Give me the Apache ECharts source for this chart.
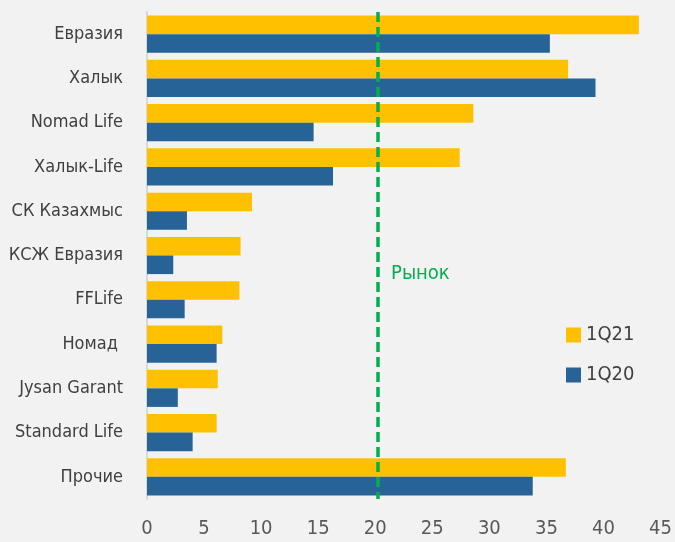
<!DOCTYPE html>
<html><head><meta charset="utf-8">
<script src="https://cdn.jsdelivr.net/npm/echarts@6/dist/echarts.min.js"></script>
<style>html,body{margin:0;padding:0;background:#f2f2f2}#c{width:675px;height:542px}</style>
</head><body><div id="c"></div>
<script>
const categories = ['Евразия','Халык','Nomad Life','Халык-Life','СК Казахмыс','КСЖ Евразия','FFLife','Номад ','Jysan Garant','Standard Life','Прочие'];
const q21 = [43.1, 36.9, 28.6, 27.4, 9.2, 8.2, 8.1, 6.6, 6.2, 6.1, 36.7];
const q20 = [35.3, 39.3, 14.6, 16.3, 3.5, 2.3, 3.3, 6.1, 2.7, 4.0, 33.8];
const market = 20.2;
const xTicks = [0, 45, 5];
const FONT = "'Liberation Sans Narrow','DejaVu Sans Condensed','Roboto Condensed',Roboto,sans-serif";
const chart = echarts.init(document.getElementById('c'));
chart.setOption({
  backgroundColor: '#f2f2f2',
  animation: false,
  textStyle: {fontFamily: FONT},
  grid: {left: 147, right: 13, top: 12, bottom: 43},
  legend: {
    orient: 'vertical', left: 561, top: 320, itemWidth: 15, itemHeight: 15, itemGap: 20,
    icon: 'rect',
    textStyle: {fontFamily: FONT, fontSize: 20, color: '#404040'},
    data: ['1Q21','1Q20']
  },
  xAxis: {
    type: 'value', min: xTicks[0], max: xTicks[1], interval: xTicks[2],
    axisLine: {show: false}, axisTick: {show: false}, splitLine: {show: false},
    axisLabel: {fontFamily: FONT, fontSize: 20, color: '#595959', margin: 20}
  },
  yAxis: {
    type: 'category', data: categories, inverse: true,
    axisLine: {lineStyle: {color: '#d9d9d9', width: 2}},
    axisTick: {length: 9, lineStyle: {color: '#d9d9d9', width: 2}},
    axisLabel: {fontFamily: FONT, fontSize: 18, color: '#404040', margin: 24}
  },
  series: [
    {name: '1Q21', type: 'bar', data: q21, barGap: '0%', barCategoryGap: '16%',
     itemStyle: {color: '#FFC000'},
     markLine: {symbol: 'none', silent: true,
       lineStyle: {color: '#00B050', type: [10, 5], width: 3.5},
       label: {show: false}, data: [{xAxis: market}]},
     markPoint: {symbol: 'rect', symbolSize: 1, itemStyle: {color: 'transparent'},
       label: {show: true, formatter: 'Рынок', position: 'right', offset: [8, 28],
         fontFamily: FONT, fontSize: 20, color: '#00B050'},
       data: [{coord: [market, 'КСЖ Евразия']}]}
    },
    {name: '1Q20', type: 'bar', data: q20, itemStyle: {color: '#286397'}}
  ]
});
</script></body></html>
